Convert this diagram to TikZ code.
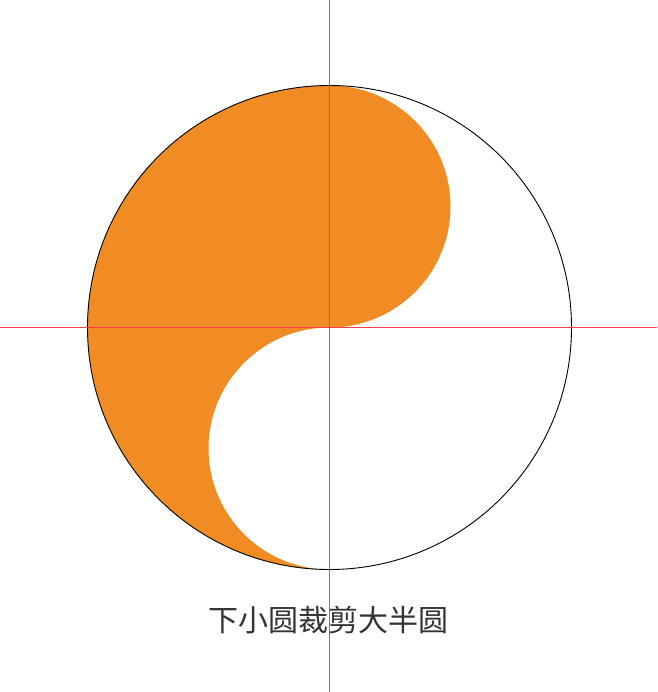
\documentclass[tikz,border=0pt]{standalone}
\usepackage{fontspec}
\newfontfamily\cjk{Noto Sans CJK SC}
\definecolor{taiji}{RGB}{241,139,36}
\definecolor{guidered}{RGB}{250,60,75}
\definecolor{txt}{RGB}{51,51,51}
\tikzset{
  redaxis/.style={draw=guidered,line width=1.2pt},
  rimline/.style={draw=black,line width=0.9pt},
  caption/.style={font=\cjk\fontsize{30}{34}\selectfont,text=txt,inner sep=0pt}}
\begin{document}
\begin{tikzpicture}[x=1pt,y=-1pt]
\useasboundingbox (0,0) rectangle (657,692);
\fill[white] (0,0) rectangle (657,692);
\coordinate (c) at (329.5,327.5);
\coordinate (bot) at (329.5,569.5);
% orange shape
\fill[taiji] (bot) arc[start angle=90,end angle=270,radius=242]
  arc[start angle=270,end angle=450,radius=121]
  arc[start angle=-90,end angle=-270,radius=121] -- cycle;
% outer circle
\path[rimline] (c) circle[radius=242];
% guide lines
\coordinate (hl) at (0,327.5);
\coordinate (hr) at (657,327.5);
\coordinate (vt) at (329.5,0);
\coordinate (vb) at (329.5,692);
\path[redaxis] (hl) -- (hr);
\path[redaxis] (vt) -- (vb);
\node[caption] (t) at (328,620) {下小圆裁剪大半圆};
\end{tikzpicture}
\end{document}
